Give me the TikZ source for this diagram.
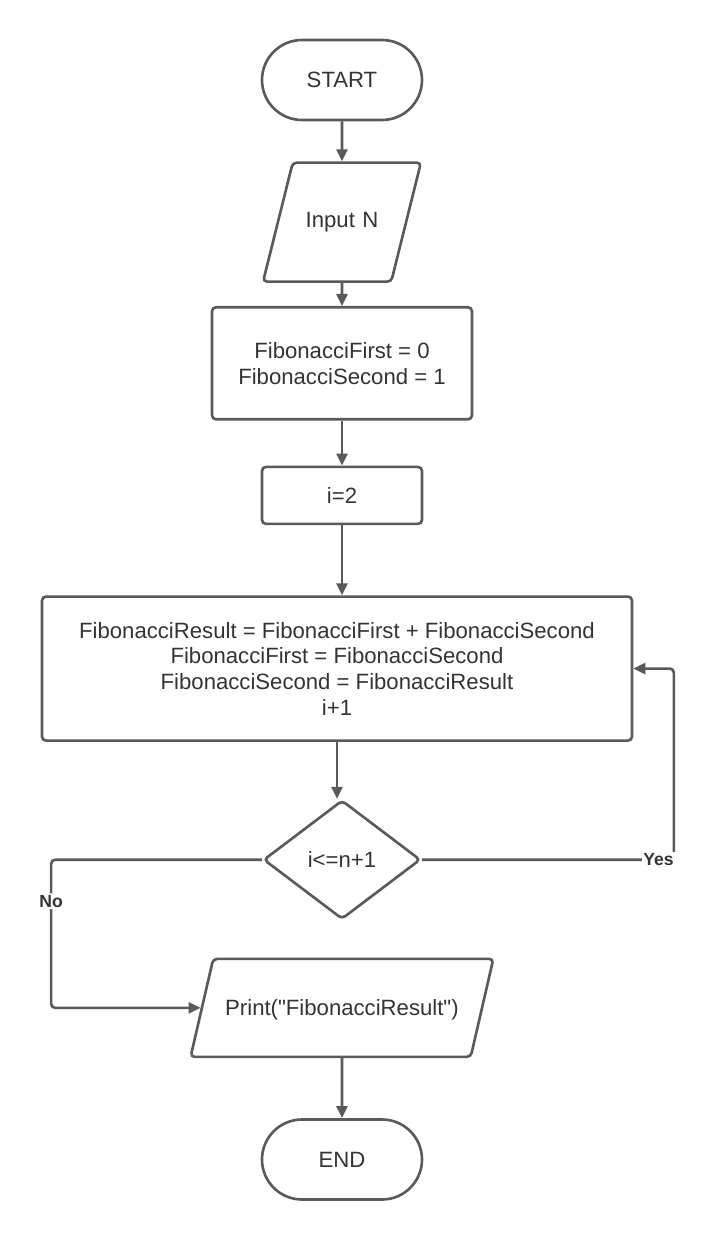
\documentclass[tikz,border=0pt]{standalone}
\usepackage{fontspec}
\setmainfont{Liberation Sans}
\usetikzlibrary{positioning,shapes.geometric,arrows.meta}
\definecolor{linegray}{HTML}{5A5A5A}
\definecolor{textgray}{HTML}{333333}
\begin{document}
\begin{tikzpicture}[line width=1.5pt,draw=linegray,
     font=\fontsize{12.6}{14.6}\selectfont,text=textgray,
     >={Triangle[length=0.24cm,width=0.22cm]},
     term node/.style={draw=linegray,rectangle,rounded corners=0.8cm,minimum width=3.2cm,minimum height=1.6cm,inner sep=0pt},
     io node/.style={draw=linegray,trapezium,rounded corners=0.08cm,inner sep=0pt,align=center},
     proc node/.style={draw=linegray,rectangle,rounded corners=0.08cm,inner sep=0pt,align=center},
     dec node/.style={draw=linegray,diamond,rounded corners=0.08cm,minimum width=3.14cm,minimum height=2.38cm,inner sep=0pt},
     flow/.style={->,draw=linegray,rounded corners=0.08cm},
     tag/.style={fill=white,inner sep=1pt,anchor=center,font=\fontsize{10}{12}\bfseries\selectfont}]
      \useasboundingbox (-6.84,1.6) rectangle (7.48,-23.2);

      \node[term node] (start) at (0,0) {START};
      \node[io node,trapezium left angle=76,trapezium right angle=104,
            text width=1.97cm,text height=1.29cm,text depth=1.09cm] (input) [below=0.8cm of start] {Input N};
      \node[proc node,minimum width=5.2cm,minimum height=2.24cm] (init) [below=0.46cm of input]
            {FibonacciFirst = 0\\FibonacciSecond = 1};
      \node[proc node,minimum width=3.2cm,minimum height=1.14cm] (count) [below=0.9cm of init] {i=2};
      \node[proc node,minimum width=11.8cm,minimum height=2.88cm] (result) [below=1.4cm of count,xshift=-0.1cm]
            {FibonacciResult = FibonacciFirst + FibonacciSecond\\FibonacciFirst = FibonacciSecond\\FibonacciSecond = FibonacciResult\\i+1};
      \node[dec node] (cond) [below=1.14cm of result,xshift=0.1cm] {i<=n+1};
      \node[io node,trapezium left angle=77,trapezium right angle=103,
            text width=5.15cm,text height=1.14cm,text depth=0.82cm] (print) [below=0.74cm of cond]
            {Print(\textquotedbl FibonacciResult\textquotedbl)};
      \node[term node] (stop) [below=1.2cm of print] {END};

      \coordinate (yes) at ([xshift=5.04cm]cond.east);
      \coordinate (no) at ([xshift=-4.22cm]cond.west);

      \foreach \s/\t in {start/input, input/init, init/count, print/stop} {
       \path[flow] (\s) edge (\t);}
      \draw[flow] (count.south) -- (count.south |- result.north);
      \draw[flow] (result.south) -- (result.south |- cond.north);
      \draw[flow] (cond.east) -- (yes) |- (result.east);
      \draw[flow] (cond.west) -- (no) |- node[tag,pos=0.14] {No} (print.west);
      \node[tag,anchor=east] at ([xshift=0.06cm]yes) {Yes};
    \end{tikzpicture}
\end{document}
